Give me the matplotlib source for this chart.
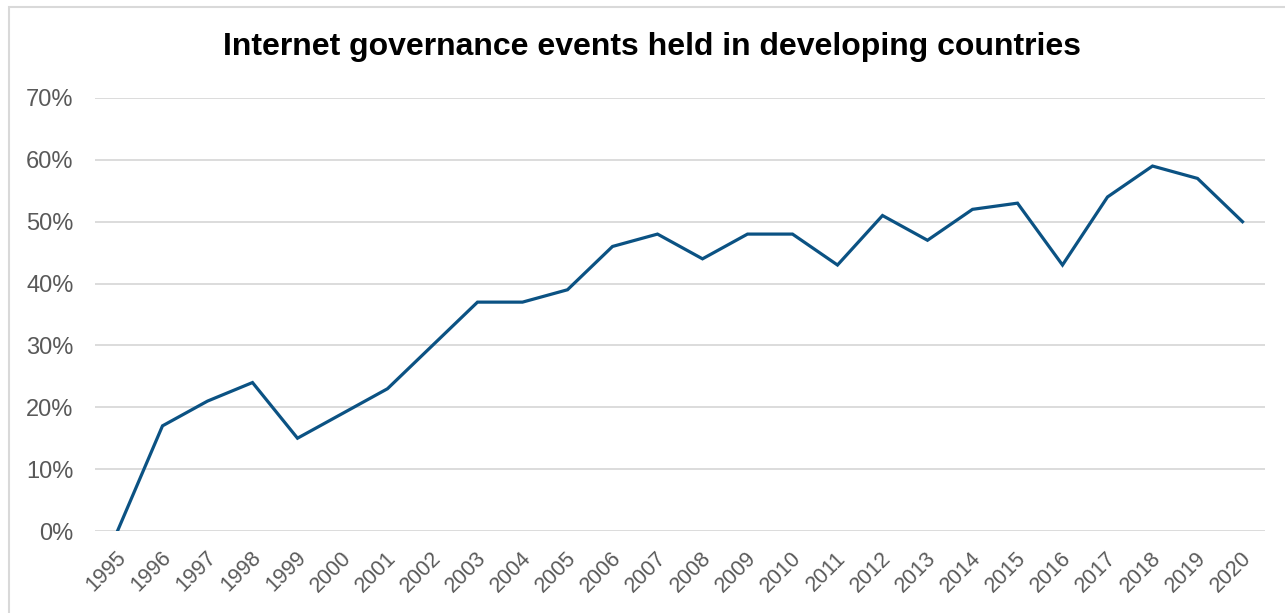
import matplotlib
matplotlib.use("Agg")
import matplotlib.pyplot as plt
from matplotlib.patches import Rectangle
from matplotlib.ticker import PercentFormatter
from matplotlib.transforms import ScaledTranslation

years = [str(y) for y in range(1995, 2021)]
share = [0, 17, 21, 24, 15, 19, 23, 30, 37, 37, 39, 46, 48, 44, 48, 48,
         43, 51, 47, 52, 53, 43, 54, 59, 57, 50]
yticks = [0, 10, 20, 30, 40, 50, 60, 70]
title = "Internet governance events held in developing countries"

plt.rcParams['font.family'] = ['Liberation Sans', 'DejaVu Sans']

W, H = 1285, 613
fig = plt.figure(figsize=(W / 100, H / 100), dpi=100)
fig.patches.append(Rectangle((9 / W, -0.1), 1.2, 1 - 7 / H + 0.1,
                             transform=fig.transFigure, fill=False,
                             edgecolor='#d9d9d9', linewidth=1.5))

ax = fig.add_axes([95 / W, 82 / H, 1170 / W, 433 / H])
x = list(range(len(years)))
ax.plot(x, share, color='#0b5283', linewidth=2.3, solid_joinstyle='miter', zorder=3)
ax.set_xlim(-0.5, len(years) - 0.5)
ax.set_ylim(0, 70)
ax.set_yticks(yticks)
ax.yaxis.set_major_formatter(PercentFormatter(decimals=0))
ax.set_xticks(x)
ax.set_xticklabels(years, rotation=45, ha='right', rotation_mode='anchor')
ax.grid(axis='y', color='#d9d9d9', linewidth=1.3)
ax.set_axisbelow(True)
for s in ax.spines.values():
    s.set_visible(False)
ax.tick_params(axis='both', length=0, labelcolor='#595959')
ax.tick_params(axis='y', pad=15.5, labelsize=17)
ax.tick_params(axis='x', pad=9, labelsize=15.5)
offset = ScaledTranslation(-2 / 100, -4 / 100, fig.dpi_scale_trans)
for lbl in ax.get_xticklabels():
    lbl.set_transform(lbl.get_transform() + offset)

fig.text(652 / W, 1 - 47 / H, title, ha='center', va='center',
         fontsize=23, fontweight='bold', color='black')

fig.savefig('out.png', dpi=100)
